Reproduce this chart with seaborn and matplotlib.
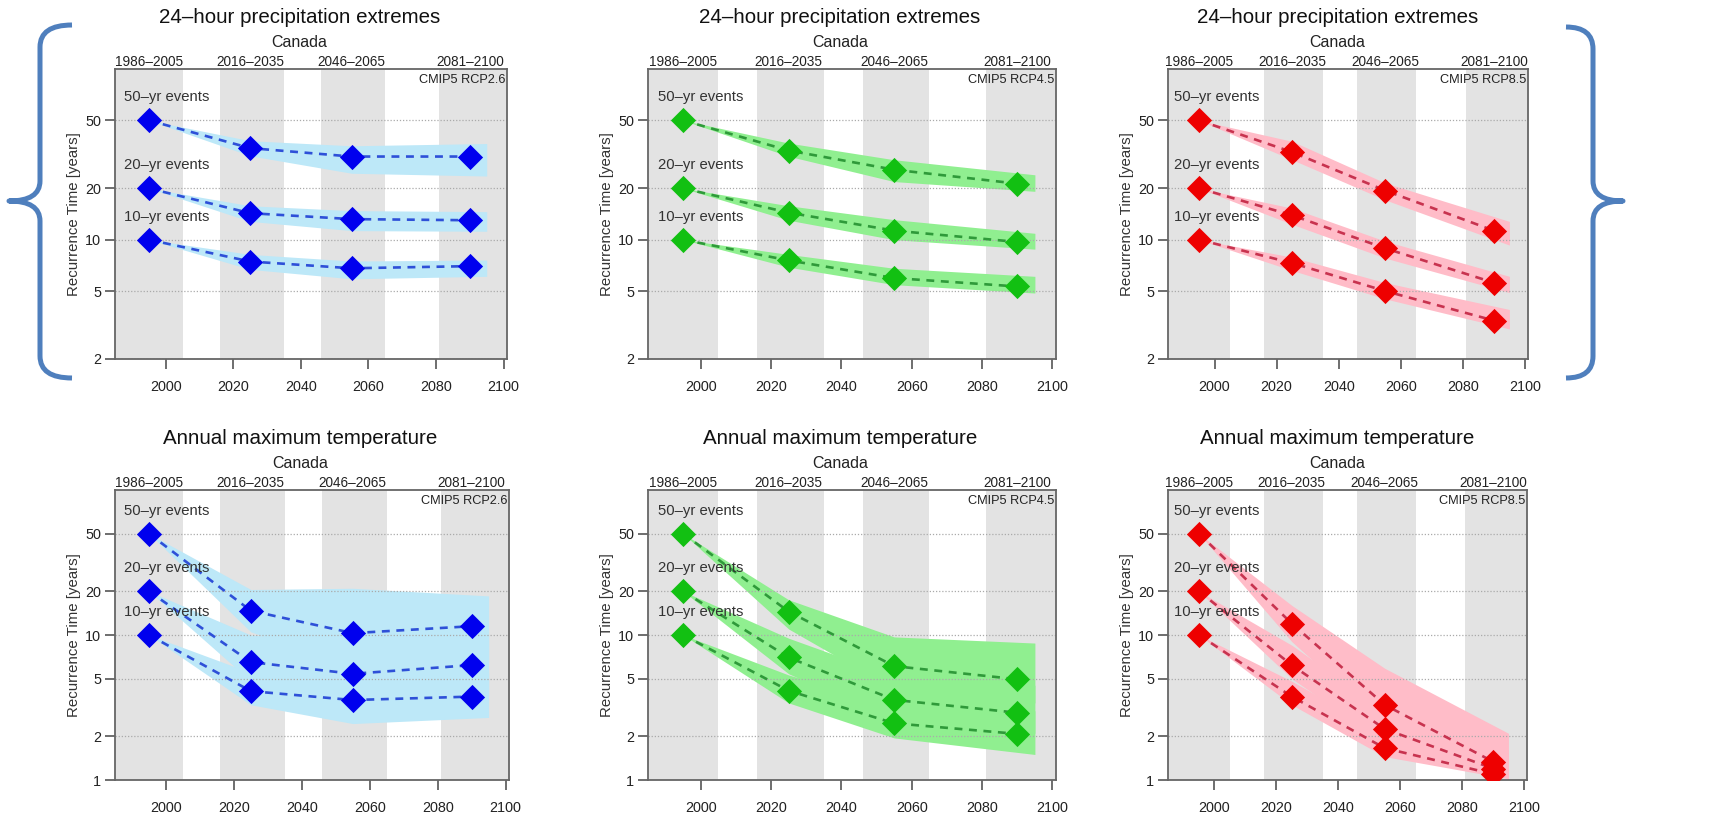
import seaborn as sns
import matplotlib.pyplot as plt
import numpy as np
from matplotlib.path import Path
from matplotlib.patches import PathPatch
from matplotlib.ticker import FixedLocator, FixedFormatter, NullLocator

sns.set_style("ticks")
plt.rcParams['font.family'] = ['Liberation Sans', 'DejaVu Sans']

# Data
years = [1995, 2025, 2055, 2090]
band_years = [1995, 2025, 2055, 2095]
periods = ["1986–2005", "2016–2035", "2046–2065", "2081–2100"]
period_spans = [(1985, 2005), (2016, 2035), (2046, 2065), (2081, 2101)]
event_labels = ["50–yr events", "20–yr events", "10–yr events"]

# rows: 50-yr, 20-yr, 10-yr
precip_26_mid = [[50, 34.4, 30.7, 30.7], [20, 14.3, 13.2, 13.0], [10, 7.45, 6.8, 7.0]]
precip_26_lo = [[50, 31, 24.5, 23.6], [20, 12.8, 11.3, 11.2], [10, 6.7, 5.9, 6.1]]
precip_26_hi = [[50, 38, 35.5, 36.6], [20, 15.8, 14.8, 14.6], [10, 8.2, 7.5, 7.6]]

precip_45_mid = [[50, 33.3, 25.7, 21.3], [20, 14.4, 11.3, 9.7], [10, 7.56, 5.96, 5.32]]
precip_45_lo = [[50, 30.8, 21.9, 19.2], [20, 13.0, 10.0, 8.8], [10, 6.9, 5.45, 4.87]]
precip_45_hi = [[50, 36.8, 29.4, 24.0], [20, 15.8, 13.1, 10.9], [10, 8.2, 6.8, 6.1]]

precip_85_mid = [[50, 32.6, 19.4, 11.3], [20, 13.9, 8.9, 5.6], [10, 7.3, 5.0, 3.36]]
precip_85_lo = [[50, 29.4, 17.1, 9.3], [20, 12.3, 7.8, 4.9], [10, 6.6, 4.5, 3.0]]
precip_85_hi = [[50, 37.7, 21.5, 12.8], [20, 15.3, 9.8, 6.1], [10, 7.9, 5.6, 3.9]]

temp_26_mid = [[50, 14.7, 10.3, 11.5], [20, 6.5, 5.4, 6.2], [10, 4.1, 3.56, 3.76]]
temp_26_lo = [[50, 10.5, 6.0, 6.5], [20, 4.8, 3.5, 3.8], [10, 3.3, 2.45, 2.7]]
temp_26_hi = [[50, 20.6, 21.0, 18.6], [20, 10.0, 9.0, 10.0], [10, 5.5, 5.0, 5.5]]

temp_45_mid = [[50, 14.5, 6.1, 4.95], [20, 7.0, 3.57, 2.91], [10, 4.13, 2.46, 2.08]]
temp_45_lo = [[50, 11.0, 4.2, 3.4], [20, 5.4, 2.6, 2.1], [10, 3.4, 1.95, 1.5]]
temp_45_hi = [[50, 17.5, 9.7, 8.8], [20, 9.5, 5.2, 4.5], [10, 5.3, 3.3, 3.0]]

temp_85_mid = [[50, 12.0, 3.3, 1.34], [20, 6.2, 2.25, 1.2], [10, 3.76, 1.66, 1.1]]
temp_85_lo = [[50, 9.0, 2.4, 1.15], [20, 5.0, 1.8, 1.05], [10, 3.3, 1.45, 1.02]]
temp_85_hi = [[50, 16.0, 5.9, 2.1], [20, 8.5, 3.0, 1.6], [10, 4.8, 2.1, 1.3]]

W, H = 1735, 813
fig = plt.figure(figsize=(W / 100, H / 100), dpi=100)

# colours per scenario: marker, dashed line, band
colours = {
    "RCP2.6": ("#0000ee", "#2e50d8", "#bde8f8"),
    "RCP4.5": ("#12c012", "#2f9a3a", "#90ef90"),
    "RCP8.5": ("#ee0000", "#c8334f", "#ffbcc8"),
}

# panel boxes in pixels: left, top, right, bottom
panels = [
    ("24–hour precipitation extremes", "RCP2.6", precip_26_mid, precip_26_lo, precip_26_hi, (115, 69, 507, 359), 2),
    ("24–hour precipitation extremes", "RCP4.5", precip_45_mid, precip_45_lo, precip_45_hi, (648, 69, 1056, 359), 2),
    ("24–hour precipitation extremes", "RCP8.5", precip_85_mid, precip_85_lo, precip_85_hi, (1168, 69, 1528, 359), 2),
    ("Annual maximum temperature", "RCP2.6", temp_26_mid, temp_26_lo, temp_26_hi, (115, 490, 509, 780), 1),
    ("Annual maximum temperature", "RCP4.5", temp_45_mid, temp_45_lo, temp_45_hi, (648, 490, 1056, 780), 1),
    ("Annual maximum temperature", "RCP8.5", temp_85_mid, temp_85_lo, temp_85_hi, (1168, 490, 1527, 780), 1),
]

txt = "#222222"
for title, scen, mid, lo, hi, box, ymin in panels:
    l, t, r, b = box
    ax = fig.add_axes([l / W, 1 - b / H, (r - l) / W, (b - t) / H])
    mcol, lcol, bcol = colours[scen]

    for x0, x1 in period_spans:
        ax.axvspan(x0, x1, color="#e3e3e3", lw=0, zorder=0)

    for k in range(3):
        ax.fill_between(band_years, lo[k], hi[k], color=bcol, lw=0, zorder=1)
    for k in range(3):
        sns.lineplot(x=years, y=mid[k], ax=ax, color=lcol, lw=1.9,
                     linestyle=(0, (3, 2.5)), zorder=3)
        sns.scatterplot(x=years, y=mid[k], ax=ax, color=mcol, marker="D",
                        s=165, linewidth=0, zorder=4)
        ax.annotate(event_labels[k], xy=(years[0], mid[k][0]), xytext=(-18, 16.5),
                    textcoords="offset points", ha="left", va="center",
                    fontsize=10.7, color="#333333", zorder=5)

    ax.set_yscale("log")
    ax.set_xlim(1985, 2101)
    ax.set_ylim(ymin, 100)
    yt = [1, 2, 5, 10, 20, 50] if ymin == 1 else [2, 5, 10, 20, 50]
    ax.yaxis.set_major_locator(FixedLocator(yt))
    ax.yaxis.set_major_formatter(FixedFormatter([str(v) for v in yt]))
    ax.yaxis.set_minor_locator(NullLocator())
    for v in yt[1:] if ymin == 1 else yt:
        ax.axhline(v, color="#aaaaaa", lw=0.9, ls=(0, (1, 1.5)), zorder=2)
    ax.set_xticks([2000, 2020, 2040, 2060, 2080, 2100])
    ax.tick_params(axis="both", direction="out", length=7, width=1.2,
                   color="#555555", labelsize=10.4, labelcolor=txt)
    ax.tick_params(axis="x", pad=8)
    ax.tick_params(axis="y", pad=3)
    for sp in ax.spines.values():
        sp.set_visible(True)
        sp.set_color("#666666")
        sp.set_linewidth(1.3)
    ax.set_xlabel("")
    ax.set_ylabel("Recurrence Time [years]", fontsize=10.8, color="#333333", labelpad=3)

    top = ax.secondary_xaxis("top")
    top.set_xticks(years)
    top.set_xticklabels(periods)
    top.tick_params(length=0, pad=0, labelsize=9.8, labelcolor=txt)
    top.spines["top"].set_visible(False)

    ax.text(0.995, 0.962, "CMIP5 " + scen, transform=ax.transAxes, ha="right",
            va="center", fontsize=9.2, color=txt)
    ax.text(0.47, 1.09, "Canada", transform=ax.transAxes, ha="center",
            va="center", fontsize=11.5, color=txt)
    ax.text(0.47, 1.176, title, transform=ax.transAxes, ha="center",
            va="center", fontsize=14.8, color="#111111")

# curly braces grouping the precipitation row
over = fig.add_axes([0, 0, 1, 1])
over.set_xlim(0, W)
over.set_ylim(H, 0)
over.axis("off")


def brace(xe, xs, xt, y0, ym, y1):
    verts = [(xe, y0), (xs, y0), (xs, y0 + 22),
             (xs, ym - 20), (xs, ym), (xt, ym),
             (xs, ym), (xs, ym + 20),
             (xs, y1 - 22), (xs, y1), (xe, y1)]
    codes = [Path.MOVETO, Path.CURVE3, Path.CURVE3,
             Path.LINETO, Path.CURVE3, Path.CURVE3,
             Path.CURVE3, Path.CURVE3,
             Path.LINETO, Path.CURVE3, Path.CURVE3]
    over.add_patch(PathPatch(Path(verts, codes), fill=False, ec="#4f7fbd",
                             lw=3.6, capstyle="butt", joinstyle="round"))


brace(72, 40, 9, 25, 201, 378)
brace(1566, 1593, 1623, 27, 201, 378)

fig.savefig("out.png", dpi=100)
plt.close(fig)
